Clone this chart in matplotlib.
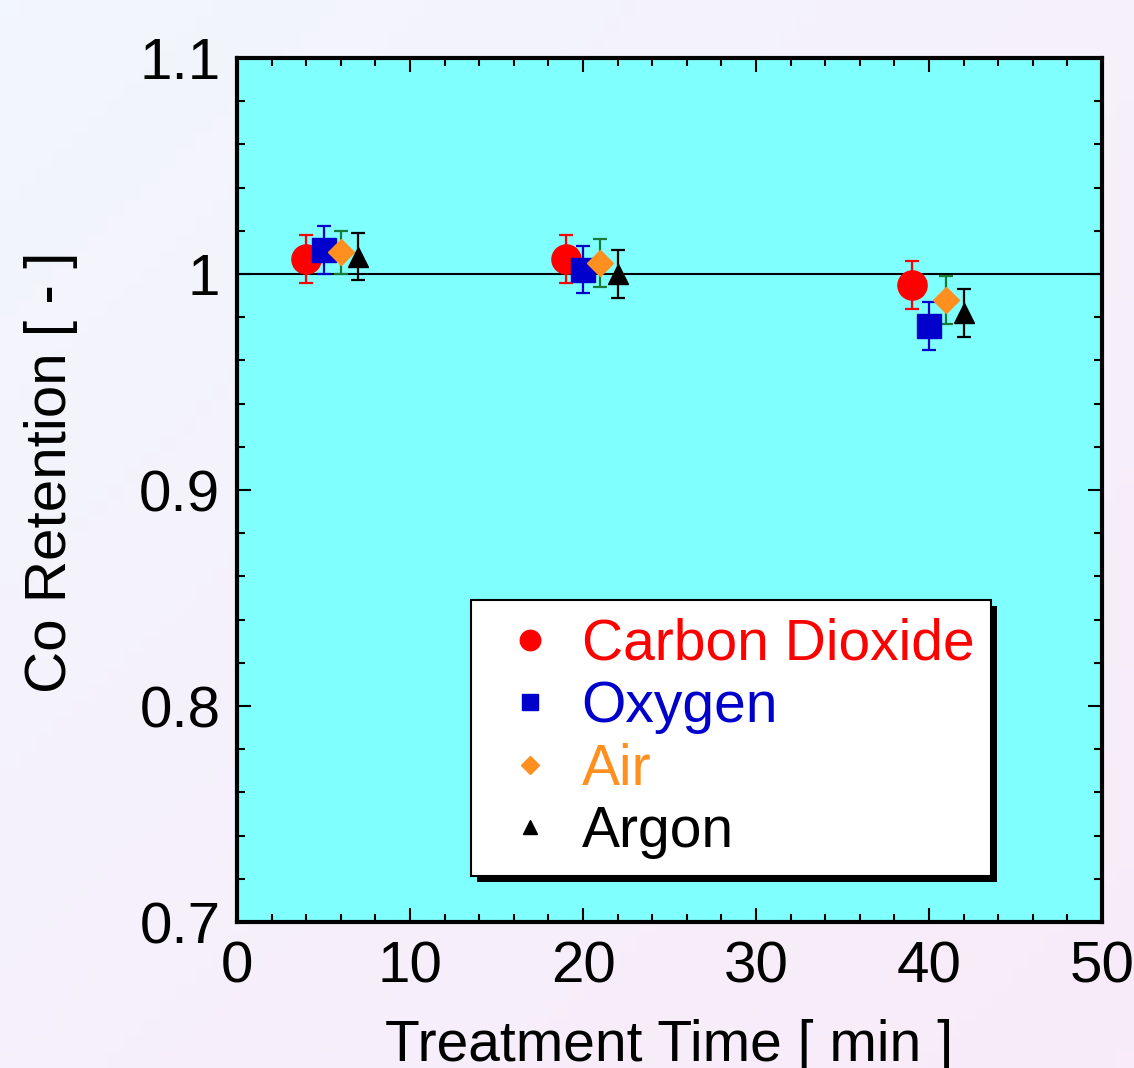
import matplotlib
matplotlib.use("Agg")
import matplotlib.pyplot as plt
import numpy as np
from matplotlib.patches import Rectangle
from matplotlib.ticker import MultipleLocator
from matplotlib.colors import LinearSegmentedColormap

plt.rcParams["font.family"] = ["Liberation Sans", "DejaVu Sans"]

# data
gases = ["Carbon Dioxide", "Oxygen", "Air", "Argon"]
times = {
    "Carbon Dioxide": [4, 19, 39],
    "Oxygen": [5, 20, 40],
    "Air": [6, 21, 41],
    "Argon": [7, 22, 42],
}
retention = {
    "Carbon Dioxide": [1.007, 1.007, 0.995],
    "Oxygen": [1.011, 1.002, 0.976],
    "Air": [1.010, 1.005, 0.988],
    "Argon": [1.008, 1.000, 0.982],
}
errors = {
    "Carbon Dioxide": [0.011, 0.011, 0.011],
    "Oxygen": [0.011, 0.011, 0.011],
    "Air": [0.010, 0.011, 0.011],
    "Argon": [0.011, 0.011, 0.011],
}

markers = {"Carbon Dioxide": "o", "Oxygen": "s", "Air": "D", "Argon": "^"}
msizes = {"Carbon Dioxide": 21, "Oxygen": 17, "Air": 13, "Argon": 15}
face = {"Carbon Dioxide": "#ff0000", "Oxygen": "#0000cc", "Air": "#ff9020", "Argon": "#000000"}
ecol = {"Carbon Dioxide": "#ff0000", "Oxygen": "#0000cc", "Air": "#1a7a3a", "Argon": "#000000"}

fig = plt.figure(figsize=(11.34, 10.68), dpi=100)

# soft lavender background gradient
bg = fig.add_axes([0, 0, 1, 1], zorder=-10)
bg.axis("off")
gx, gy = np.meshgrid(np.linspace(0, 1, 64), np.linspace(0, 1, 64))
bg_cmap = LinearSegmentedColormap.from_list("bg", ["#f2f6fd", "#f9ebf9"])
bg.imshow((gx + gy) / 2, cmap=bg_cmap, aspect="auto", extent=(0, 1, 1, 0))

ax = fig.add_axes([237 / 1134, 1 - 922 / 1068, 865 / 1134, 864 / 1068])
ax.set_facecolor("#80ffff")

ax.axhline(1.0, color="black", lw=1.5, zorder=1)

for g in gases:
    ax.errorbar(times[g], retention[g], yerr=errors[g], fmt=markers[g],
                ms=msizes[g], mfc=face[g], mec=face[g], ecolor=ecol[g],
                elinewidth=1.6, capsize=5, capthick=1.6, zorder=3)

ax.set_xlim(0, 50)
ax.set_ylim(0.7, 1.1)
ax.xaxis.set_major_locator(MultipleLocator(10))
ax.xaxis.set_minor_locator(MultipleLocator(2))
ax.yaxis.set_minor_locator(MultipleLocator(0.02))
ax.set_yticks([0.7, 0.8, 0.9, 1.0, 1.1])
ax.set_yticklabels(["0.7", "0.8", "0.9", "1", "1.1"])

ax.tick_params(which="both", direction="in", top=True, right=True, width=1.5,
               labelsize=42, colors="black")
ax.tick_params(which="major", length=10)
ax.tick_params(which="minor", length=5.5)
ax.tick_params(axis="x", pad=13)
ax.tick_params(axis="y", pad=12)
for s in ax.spines.values():
    s.set_linewidth(3)

ax.set_xlabel("Treatment Time [ min ]", fontsize=41, labelpad=18)
ax.set_ylabel("Co Retention [ - ]", fontsize=42, labelpad=44)
ax.yaxis.label.set_y(0.52)

leg_handles = [
    plt.Line2D([], [], ls="none", marker=markers[g], ms=msizes[g] * 0.7,
               mfc=face[g], mec=face[g]) for g in gases
]
leg = ax.legend(leg_handles, gases, loc="lower left", bbox_to_anchor=(0.27, 0.053),
                fontsize=41, frameon=True, fancybox=False, edgecolor="black",
                framealpha=1, labelcolor=[face[g] for g in gases],
                handlelength=1.5, handletextpad=0.15, labelspacing=0.15,
                borderpad=0.3, borderaxespad=0)
leg.get_frame().set_linewidth(1.5)
leg.set_zorder(5)

# black drop shadow behind the legend
fig.canvas.draw()
bb = leg.get_window_extent()
shadow = Rectangle((bb.x0 + 6, bb.y0 - 6), bb.width, bb.height, transform=None,
                   facecolor="black", edgecolor="none", zorder=4)
ax.add_artist(shadow)

fig.savefig("out.png", dpi=100)
